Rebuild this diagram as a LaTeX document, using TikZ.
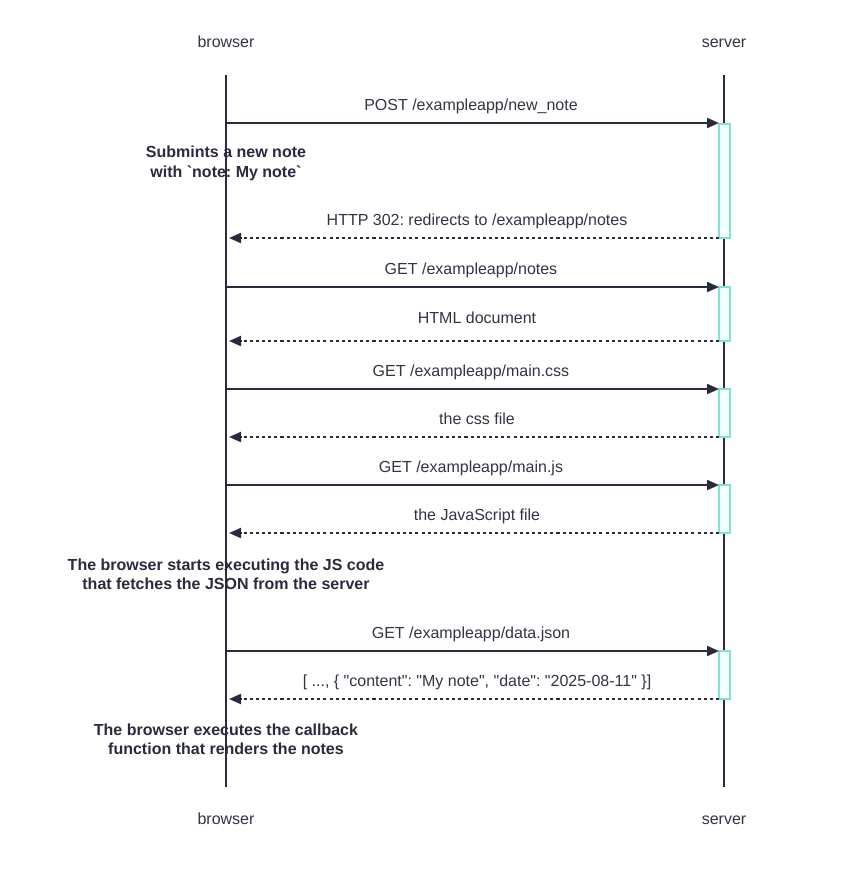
\documentclass[tikz,border=0pt]{standalone}
\usepackage{fontspec}
\setmainfont{Liberation Sans}
\usetikzlibrary{arrows.meta}
\frenchspacing
\definecolor{ink}{HTML}{2A2A3E}
\definecolor{txt}{HTML}{333344}
\definecolor{actline}{HTML}{80E2D6}
\definecolor{actfill}{HTML}{F3FFFD}
\newcommand{\dq}{\textquotedbl}
\newcommand{\bq}{\textasciigrave}
\tikzset{
  actor/.style={font=\fontsize{12}{14}\selectfont, text=txt, anchor=base},
  lifeline/.style={draw=ink, line width=1.5pt},
  msg/.style={font=\fontsize{12}{14}\selectfont, text=txt, anchor=base},
  call/.style={draw=ink, line width=1.5pt, -{Triangle[length=9pt,width=7.5pt]}},
  reply/.style={draw=ink, line width=1.5pt, dash pattern=on 2.3pt off 2.3pt, -{Triangle[length=9pt,width=7.5pt]}},
  activation/.style={draw=actline, fill=actfill, line width=1.3pt},
  notetext/.style={font=\bfseries\fontsize{12}{14.6}\selectfont, text=ink, align=center}
}
\begin{document}
\frenchspacing
\begin{tikzpicture}[x=0.75pt,y=-0.75pt]
\useasboundingbox (0,0) rectangle (850,893);

% participants
\node[actor] (bt) at (226,47) {browser};
\node[actor] (st) at (724,47) {server};
\node[actor] (bb) at (226,824) {browser};
\node[actor] (sb) at (724,824) {server};
\coordinate (b0) at (226,75);
\coordinate (b1) at (226,787);
\coordinate (s0) at (724,75);
\coordinate (s1) at (724,787);
\draw[lifeline] (b0) -- (b1);
\draw[lifeline] (s0) -- (s1);

% activation bars on the server
\draw[activation] (719,124) rectangle (730,238);
\draw[activation] (719,287) rectangle (730,341);
\draw[activation] (719,389) rectangle (730,437);
\draw[activation] (719,485) rectangle (730,533);
\draw[activation] (719,651) rectangle (730,699);

% message end points
\coordinate (m1a) at (226,123); \coordinate (m1b) at (719,123);
\coordinate (m2a) at (719,238); \coordinate (m2b) at (229,238);
\coordinate (m3a) at (226,287); \coordinate (m3b) at (719,287);
\coordinate (m4a) at (719,341); \coordinate (m4b) at (229,341);
\coordinate (m5a) at (226,389); \coordinate (m5b) at (719,389);
\coordinate (m6a) at (719,437); \coordinate (m6b) at (229,437);
\coordinate (m7a) at (226,485); \coordinate (m7b) at (719,485);
\coordinate (m8a) at (719,533); \coordinate (m8b) at (229,533);
\coordinate (m9a) at (226,651); \coordinate (m9b) at (719,651);
\coordinate (m10a) at (719,699); \coordinate (m10b) at (229,699);

\draw[call] (m1a) -- (m1b);
\draw[reply] (m2a) -- (m2b);
\draw[call] (m3a) -- (m3b);
\draw[reply] (m4a) -- (m4b);
\draw[call] (m5a) -- (m5b);
\draw[reply] (m6a) -- (m6b);
\draw[call] (m7a) -- (m7b);
\draw[reply] (m8a) -- (m8b);
\draw[call] (m9a) -- (m9b);
\draw[reply] (m10a) -- (m10b);

% message labels (baselines)
\node[msg] (l1) at (471,110) {POST /exampleapp/new\_note};
\node[msg] (l2) at (477,225) {HTTP 302: redirects to /exampleapp/notes};
\node[msg] (l3) at (471,274) {GET /exampleapp/notes};
\node[msg] (l4) at (477,323) {HTML document};
\node[msg] (l5) at (471,376) {GET /exampleapp/main.css};
\node[msg] (l6) at (477,424) {the css file};
\node[msg] (l7) at (471,472) {GET /exampleapp/main.js};
\node[msg] (l8) at (477,520) {the JavaScript file};
\node[msg] (l9) at (471,638) {GET /exampleapp/data.json};
\node[msg] (l10) at (477,686) {[ ..., \{ \dq content\dq: \dq My note\dq, \dq date\dq: \dq 2025-08-11\dq\ \}]};

% notes
\node[notetext] (n1) at (226,163.5) {Submints a new note\\with \bq note: My note\bq};
\node[notetext] (n2) at (226,574.5) {The browser starts executing the JS code\\that fetches the JSON from the server};
\node[notetext] (n3) at (226,739.5) {The browser executes the callback\\function that renders the notes};
\end{tikzpicture}
\end{document}
